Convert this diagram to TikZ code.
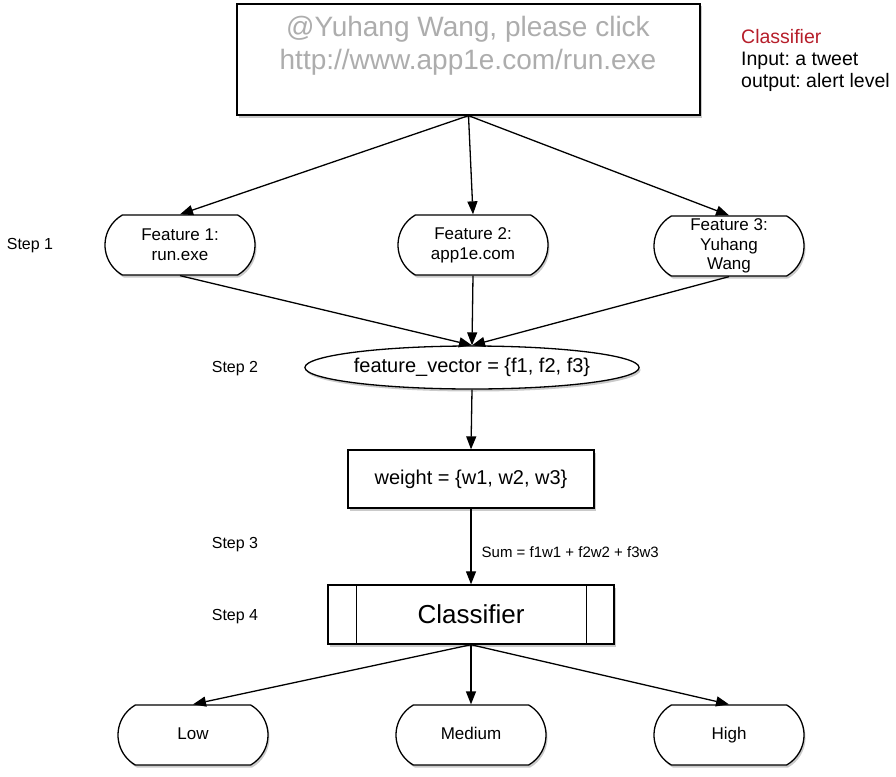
\documentclass[tikz,border=0pt]{standalone}
\usepackage{fontspec}
\setmainfont{Liberation Sans}
\usetikzlibrary{shapes.misc,shapes.geometric,shadows,arrows.meta}
\definecolor{tweetgray}{gray}{0.68}
\definecolor{titlered}{RGB}{182,30,42}
\frenchspacing
\begin{document}
\begin{tikzpicture}[x=1pt,y=-1pt,
    shade box/.style={drop shadow={shadow xshift=1.5pt,shadow yshift=-2.5pt,opacity=.35,fill=black!60}},
    terminal/.style={rounded rectangle,rounded rectangle arc length=120,draw,line width=1.3pt,
      fill=white,shade box,minimum width=152pt,minimum height=60pt,inner sep=1pt,align=center,
      font=\fontsize{17}{20}\selectfont},
    level/.style={terminal,text height=12.5pt,text depth=3.5pt},
    flow/.style={-{Triangle[length=13pt,width=10pt]},line width=1.3pt},
    steplabel/.style={font=\fontsize{16}{18}\selectfont}]
  \useasboundingbox (0,0) rectangle (896,776);
  % tweet and note
  \node[draw,line width=1.3pt,fill=white,shade box,minimum width=463pt,minimum height=111pt] (tweet) at (468.5,59.5) {};
  \node[align=center,text=tweetgray,font=\fontsize{28}{33}\selectfont] (tweettext) at (468,46)
    {@Yuhang Wang, please click\\http://www.app1e.com/run.exe};
  \node[anchor=north west,inner sep=0pt,align=left,font=\fontsize{19.5}{22}\selectfont] (note) at (741,29)
    {\textcolor{titlered}{Classifier}\\Input: a tweet\\output: alert level};
  % steps
  \node[steplabel] (step1) at (30,246) {Step 1};
  \node[steplabel] (step2) at (235,369) {Step 2};
  \node[steplabel] (step3) at (235,545) {Step 3};
  \node[steplabel] (step4) at (235,617) {Step 4};
  % nodes
  \node[terminal] (f1) at (180,245) {Feature 1:\\run.exe};
  \node[terminal] (f2) at (473,245) {Feature 2:\\app1e.com};
  \node[terminal,font=\fontsize{17}{19.5}\selectfont] (f3) at (729,246) {Feature 3:\\Yuhang\\Wang};
  \node[ellipse,draw,line width=1.3pt,fill=white,shade box,minimum width=328pt,minimum height=43pt,
    inner sep=0pt,font=\fontsize{20}{22}\selectfont] (vec) at (472,367.5) {feature\_vector = \{f1, f2, f3\}};
  \node[draw,line width=1.3pt,fill=white,shade box,minimum width=246pt,minimum height=58pt,
    font=\fontsize{20}{22}\selectfont] (weight) at (471,479) {weight = \{w1, w2, w3\}};
  \node[draw,line width=1.4pt,fill=white,shade box,minimum width=286pt,minimum height=59pt,
    font=\fontsize{26}{28}\selectfont] (clf) at (471,614.5) {Classifier};
  \draw[line width=1.1pt] ([xshift=29pt]clf.north west) -- ([xshift=29pt]clf.south west);
  \draw[line width=1.1pt] ([xshift=-28pt]clf.north east) -- ([xshift=-28pt]clf.south east);
  \node[level] (low) at (193,735) {Low};
  \node[level] (med) at (471,735) {Medium};
  \node[level] (high) at (729,735) {High};
  % connectors
  \draw[flow] (tweet.south) -- (f1.north);
  \draw[flow] (tweet.south) -- (f2.north);
  \draw[flow] (tweet.south) -- (f3.north);
  \draw[flow] (f1.south) -- (vec.north);
  \draw[flow] (f2.south) -- (vec.north);
  \draw[flow] (f3.south) -- (vec.north);
  \draw[flow] (vec.south) -- (weight.north);
  \draw[flow] (weight.south) -- node[pos=.58,anchor=west,inner sep=0pt,xshift=10pt,
    font=\fontsize{15}{17}\selectfont] {Sum = f1w1 + f2w2 + f3w3} (clf.north);
  \draw[flow] (clf.south) -- (low.north);
  \draw[flow] (clf.south) -- (med.north);
  \draw[flow] (clf.south) -- (high.north);
\end{tikzpicture}
\end{document}
